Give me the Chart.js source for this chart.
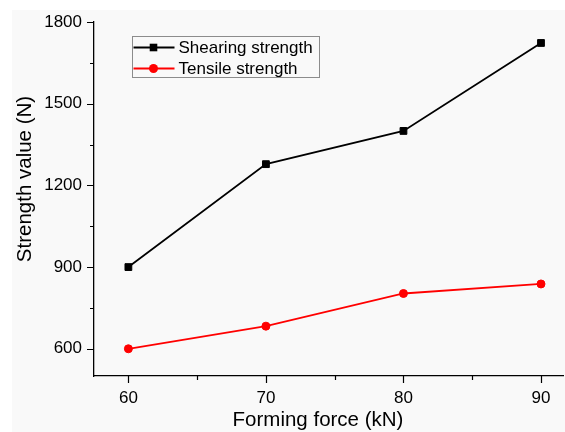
<!DOCTYPE html>
<html>
<head>
<meta charset="utf-8">
<title>Strength vs forming force</title>
<script src="https://cdn.jsdelivr.net/npm/chart.js@4.4.1/dist/chart.umd.min.js"></script>
<style>
    html, body { margin: 0; padding: 0; background: #ffffff; overflow: hidden; }
    #strengthChart { display: block; }
</style>
</head>
<body>
<canvas id="strengthChart" width="565" height="432"></canvas>
<script>
// Values
var forceValues = [60, 70, 80, 90];
var shearingStrength = [900, 1278, 1400, 1723];
var tensileStrength = [600, 683, 803, 838];

var xMajorTicks = [60, 70, 80, 90];
var xMinorTicks = [65, 75, 85];
var yMajorTicks = [600, 900, 1200, 1500, 1800];
var yMinorTicks = [750, 1050, 1350, 1650];

var FONT = '"Liberation Sans", Arial, sans-serif';

(function() {
    'use strict';

    function toPoints(values) {
        var pts = [];
        for (var i = 0; i < forceValues.length; i++) {
            pts.push({ x: forceValues[i], y: values[i] });
        }
        return pts;
    }

    // Light grey plot panel with a thin white margin, like the exported figure
    var backgroundPlugin = {
        id: 'panelBackground',
        beforeDraw: function(chart) {
            var ctx = chart.ctx;
            ctx.save();
            ctx.fillStyle = '#ffffff';
            ctx.fillRect(0, 0, chart.width, chart.height);
            ctx.fillStyle = '#f9f9f9';
            ctx.fillRect(12, 10, chart.width - 12, chart.height - 10);
            ctx.restore();
        }
    };

    // Outward major/minor tick marks
    var tickMarksPlugin = {
        id: 'tickMarks',
        afterDraw: function(chart) {
            var ctx = chart.ctx;
            var xs = chart.scales.x;
            var ys = chart.scales.y;
            var area = chart.chartArea;
            ctx.save();
            ctx.strokeStyle = '#000000';
            ctx.lineWidth = 1.2;
            ctx.beginPath();
            xMajorTicks.forEach(function(v) {
                var px = Math.round(xs.getPixelForValue(v)) + 0.5;
                ctx.moveTo(px, area.bottom);
                ctx.lineTo(px, area.bottom + 7);
            });
            xMinorTicks.forEach(function(v) {
                var px = Math.round(xs.getPixelForValue(v)) + 0.5;
                ctx.moveTo(px, area.bottom);
                ctx.lineTo(px, area.bottom + 4);
            });
            yMajorTicks.forEach(function(v) {
                var py = Math.round(ys.getPixelForValue(v)) + 0.5;
                ctx.moveTo(area.left, py);
                ctx.lineTo(area.left - 7, py);
            });
            yMinorTicks.forEach(function(v) {
                var py = Math.round(ys.getPixelForValue(v)) + 0.5;
                ctx.moveTo(area.left, py);
                ctx.lineTo(area.left - 4, py);
            });
            ctx.stroke();
            ctx.restore();
        }
    };

    // Axis titles
    var axisTitlePlugin = {
        id: 'axisTitles',
        afterDraw: function(chart) {
            var ctx = chart.ctx;
            ctx.save();
            ctx.fillStyle = '#000000';
            ctx.font = '20.5px ' + FONT;
            ctx.textAlign = 'center';
            ctx.textBaseline = 'middle';
            ctx.fillText('Forming force (kN)', 318, 420);
            ctx.translate(25, 179);
            ctx.rotate(-Math.PI / 2);
            ctx.fillText('Strength value (N)', 0, 0);
            ctx.restore();
        }
    };

    // Origin-style legend: line - marker - line, inside a grey box
    var legendPlugin = {
        id: 'originLegend',
        afterDraw: function(chart) {
            var ctx = chart.ctx;
            var boxX = 132.5, boxY = 36.5, boxW = 187, boxH = 41;
            ctx.save();
            ctx.strokeStyle = '#8c8c8c';
            ctx.lineWidth = 1;
            ctx.strokeRect(boxX, boxY, boxW, boxH);
            ctx.font = '17px ' + FONT;
            ctx.textBaseline = 'middle';
            ctx.textAlign = 'left';
            chart.data.datasets.forEach(function(ds, i) {
                var cy = 47.5 + i * 21;
                ctx.strokeStyle = ds.borderColor;
                ctx.lineWidth = ds.borderWidth;
                ctx.beginPath();
                ctx.moveTo(boxX + 1, cy);
                ctx.lineTo(boxX + 42, cy);
                ctx.stroke();
                ctx.fillStyle = ds.pointBackgroundColor;
                ctx.beginPath();
                if (ds.pointStyle === 'rect') {
                    ctx.rect(boxX + 21 - 3.8, cy - 3.8, 7.6, 7.6);
                } else {
                    ctx.arc(boxX + 21, cy, 4.5, 0, Math.PI * 2);
                }
                ctx.fill();
                ctx.fillStyle = '#000000';
                ctx.fillText(ds.label, boxX + 46, cy + 1);
            });
            ctx.restore();
        }
    };

    function plainLabel(value) {
        return String(value);
    }

    function initChart() {
        var canvas = document.getElementById('strengthChart');
        if (!canvas) {
            console.error('Canvas #strengthChart not found');
            return;
        }
        var ctx = canvas.getContext('2d');

        new Chart(ctx, {
            type: 'line',
            data: {
                datasets: [{
                    label: 'Shearing strength',
                    data: toPoints(shearingStrength),
                    borderColor: '#000000',
                    backgroundColor: '#000000',
                    borderWidth: 1.8,
                    pointStyle: 'rect',
                    pointRadius: 4.8,
                    pointBorderWidth: 1,
                    pointBackgroundColor: '#000000',
                    pointBorderColor: '#000000',
                    tension: 0
                }, {
                    label: 'Tensile strength',
                    data: toPoints(tensileStrength),
                    borderColor: '#ff0000',
                    backgroundColor: '#ff0000',
                    borderWidth: 1.8,
                    pointStyle: 'circle',
                    pointRadius: 4,
                    pointBorderWidth: 1,
                    pointBackgroundColor: '#ff0000',
                    pointBorderColor: '#ff0000',
                    tension: 0
                }]
            },
            options: {
                responsive: false,
                animation: false,
                devicePixelRatio: 1,
                events: [],
                layout: {
                    autoPadding: false,
                    padding: { left: 0, top: 22, right: 2, bottom: 0 }
                },
                plugins: {
                    legend: { display: false },
                    tooltip: { enabled: false },
                    title: { display: false }
                },
                scales: {
                    x: {
                        type: 'linear',
                        min: 57.5,
                        max: 91.6,
                        afterBuildTicks: function(scale) {
                            scale.ticks = xMajorTicks.map(function(v) { return { value: v }; });
                        },
                        afterFit: function(scale) {
                            scale.height = 56;
                            scale.paddingLeft = 0;
                            scale.paddingRight = 0;
                        },
                        grid: { display: true, drawOnChartArea: false, drawTicks: false },
                        border: { display: true, color: '#000000', width: 1.3 },
                        ticks: {
                            color: '#000000',
                            font: { family: FONT, size: 17 },
                            padding: 12,
                            maxRotation: 0,
                            callback: plainLabel
                        }
                    },
                    y: {
                        type: 'linear',
                        min: 500,
                        max: 1800,
                        afterBuildTicks: function(scale) {
                            scale.ticks = yMajorTicks.map(function(v) { return { value: v }; });
                        },
                        afterFit: function(scale) {
                            scale.width = 94;
                            scale.paddingTop = 0;
                            scale.paddingBottom = 0;
                        },
                        grid: { display: true, drawOnChartArea: false, drawTicks: false },
                        border: { display: true, color: '#000000', width: 1.3 },
                        ticks: {
                            color: '#000000',
                            font: { family: FONT, size: 17 },
                            padding: 12,
                            callback: plainLabel
                        }
                    }
                }
            },
            plugins: [backgroundPlugin, tickMarksPlugin, axisTitlePlugin, legendPlugin]
        });
    }

    if (document.readyState === 'loading') {
        document.addEventListener('DOMContentLoaded', initChart);
    } else {
        initChart();
    }
})();
</script>
</body>
</html>
